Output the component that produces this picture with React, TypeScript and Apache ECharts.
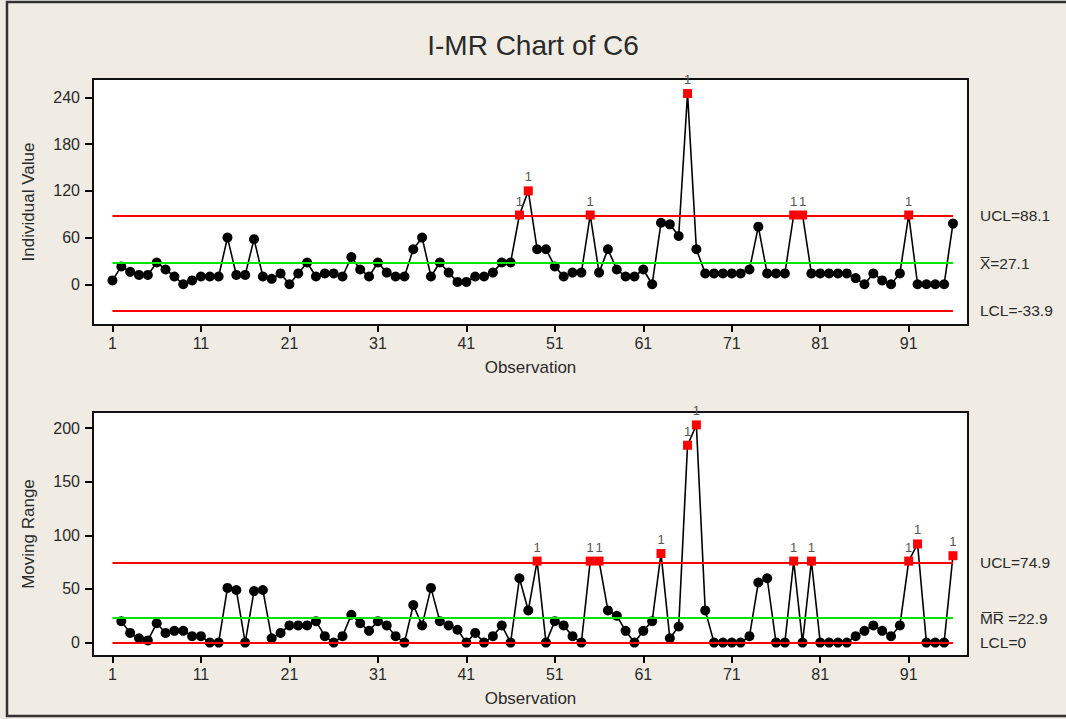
import React, { useEffect, useRef } from "react";
import * as echarts from "echarts";

const observationTicks = [1, 11, 21, 31, 41, 51, 61, 71, 81, 91];
const individualTicks = [0, 60, 120, 180, 240];
const movingRangeTicks = [0, 50, 100, 150, 200];

const individualValues: number[] = [
  5, 23, 16, 12, 12, 28, 19, 10, 0, 5,
  10, 10, 10, 60, 12, 12, 58, 10, 7, 14,
  0, 14, 28, 10, 14, 14, 10, 35, 19, 10,
  28, 15, 10, 10, 45, 60, 10, 28, 15, 3,
  3, 10, 10, 15, 28, 28, 89, 120, 45, 45,
  23, 10, 15, 15, 89, 15, 45, 19, 10, 10,
  19, 0, 79, 77, 62, 245, 45, 14, 14, 14,
  14, 14, 19, 74, 14, 14, 14, 89, 89, 14,
  14, 14, 14, 14, 8, 0, 14, 5, 0, 14,
  89, 0, 0, 0, 0, 78,
];

const movingRanges: (number | null)[] = [
  null, 20, 9, 4, 2, 18, 9, 11, 11, 6,
  6, 0, 0, 51, 49, 0, 48, 49, 4, 9,
  16, 16, 16, 20, 6, 0, 6, 26, 18, 11,
  20, 16, 6, 0, 35, 16, 51, 20, 16, 12,
  0, 9, 0, 6, 16, 0, 60, 30, 76, 0,
  20, 16, 6, 0, 76, 76, 30, 25, 11, 0,
  11, 20, 83, 4, 15, 184, 203, 30, 0, 0,
  0, 0, 6, 56, 60, 0, 0, 76, 0, 76,
  0, 0, 0, 0, 6, 11, 16, 11, 6, 16,
  76, 92, 0, 0, 0, 81,
];

const individualFlagged = [47, 48, 55, 66, 78, 79, 91];
const movingRangeFlagged = [49, 55, 56, 63, 66, 67, 78, 80, 91, 92, 96];

const iUCL = 88.1;
const iCenter = 27.1;
const iLCL = -33.9;
const mrUCL = 74.9;
const mrCenter = 22.9;
const mrLCL = 0;

const FONT = "'Liberation Sans', Arial, sans-serif";
const TEXT = "#2a2a2a";

function buildData(values: (number | null)[], flagged: number[]) {
  const out: any[] = [];
  values.forEach((v, i) => {
    const obs = i + 1;
    if (v === null) return;
    if (flagged.includes(obs)) {
      out.push({
        value: [obs, v],
        symbol: "rect",
        symbolSize: 9,
        itemStyle: { color: "#FF0000" },
        label: {
          show: true,
          formatter: "1",
          position: "top",
          distance: 3,
          color: "#555",
          fontSize: 13,
          fontFamily: FONT,
        },
      });
    } else {
      out.push({ value: [obs, v] });
    }
  });
  return out;
}

function limitLine(y: number, color: string, text: string, first: number, last: number) {
  return [
    { coord: [first, y] },
    {
      coord: [last, y],
      lineStyle: { color, width: 2, type: "solid" },
      label: {
        show: true,
        position: "end",
        distance: 27,
        formatter: text,
        color: TEXT,
        fontSize: 15.5,
        fontFamily: FONT,
      },
    },
  ];
}

function xAxis(gridIndex: number) {
  return {
    type: "value",
    gridIndex,
    min: -1.2,
    max: 97.7,
    name: "Observation",
    nameLocation: "middle",
    nameGap: 34,
    nameTextStyle: { color: TEXT, fontSize: 17, fontFamily: FONT },
    axisLine: { show: false, onZero: false },
    axisTick: {
      show: true,
      length: 7,
      lineStyle: { color: "#000", width: 2 },
      customValues: observationTicks,
    },
    axisLabel: {
      color: TEXT,
      fontSize: 16,
      fontFamily: FONT,
      margin: 10,
      customValues: observationTicks,
    },
    splitLine: { show: false },
  };
}

function yAxis(gridIndex: number, min: number, max: number, ticks: number[], name: string) {
  return {
    type: "value",
    gridIndex,
    min,
    max,
    name,
    nameLocation: "middle",
    nameGap: 56,
    nameTextStyle: { color: TEXT, fontSize: 17, fontFamily: FONT },
    axisLine: { show: false, onZero: false },
    axisTick: {
      show: true,
      length: 8,
      lineStyle: { color: "#000", width: 2 },
      customValues: ticks,
    },
    axisLabel: {
      color: TEXT,
      fontSize: 16,
      fontFamily: FONT,
      margin: 13,
      customValues: ticks,
    },
    splitLine: { show: false },
  };
}

export default function App() {
  const ref = useRef<HTMLDivElement>(null);

  useEffect(() => {
    document.body.style.margin = "0";
    if (!ref.current) return;
    const chart = echarts.init(ref.current, null, { renderer: "svg" });
    const lastObs = individualValues.length;

    const dataLineStyle = { color: "#000", width: 1.6 };

    chart.setOption({
      animation: false,
      backgroundColor: "#F0ECE3",
      title: {
        text: "I-MR Chart of C6",
        left: "center",
        top: 26,
        textStyle: {
          color: TEXT,
          fontSize: 28,
          fontWeight: "normal",
          fontFamily: "'Liberation Sans Narrow', 'Liberation Sans', Arial, sans-serif",
        },
      },
      graphic: [
        {
          type: "rect",
          shape: { x: 7, y: 2, width: 1075, height: 714 },
          style: { fill: "none", stroke: "#333", lineWidth: 2.5 },
          silent: true,
        },
      ],
      grid: [
        {
          left: 93,
          top: 79,
          width: 875,
          height: 246,
          show: true,
          backgroundColor: "#fff",
          borderColor: "#111",
          borderWidth: 2,
        },
        {
          left: 93,
          top: 412,
          width: 875,
          height: 244,
          show: true,
          backgroundColor: "#fff",
          borderColor: "#111",
          borderWidth: 2,
        },
      ],
      xAxis: [xAxis(0), xAxis(1)],
      yAxis: [
        yAxis(0, -52.3, 263.7, individualTicks, "Individual Value"),
        yAxis(1, -12.5, 215, movingRangeTicks, "Moving Range"),
      ],
      series: [
        {
          type: "line",
          xAxisIndex: 0,
          yAxisIndex: 0,
          data: [],
          z: 1,
          silent: true,
          markLine: {
            silent: true,
            symbol: ["none", "none"],
            data: [
              limitLine(iUCL, "#FF0000", "UCL=88.1", 1, lastObs),
              limitLine(iCenter, "#00E600", "X\u0305=27.1", 1, lastObs),
              limitLine(iLCL, "#FF0000", "LCL=-33.9", 1, lastObs),
            ],
          },
        },
        {
          type: "line",
          xAxisIndex: 0,
          yAxisIndex: 0,
          z: 3,
          data: buildData(individualValues, individualFlagged),
          symbol: "circle",
          symbolSize: 10,
          showAllSymbol: true,
          itemStyle: { color: "#000" },
          lineStyle: dataLineStyle,
        },
        {
          type: "line",
          xAxisIndex: 1,
          yAxisIndex: 1,
          data: [],
          z: 1,
          silent: true,
          markLine: {
            silent: true,
            symbol: ["none", "none"],
            data: [
              limitLine(mrUCL, "#FF0000", "UCL=74.9", 1, lastObs),
              limitLine(mrCenter, "#00E600", "M\u0305R\u0305 =22.9", 1, lastObs),
              limitLine(mrLCL, "#FF0000", "LCL=0", 1, lastObs),
            ],
          },
        },
        {
          type: "line",
          xAxisIndex: 1,
          yAxisIndex: 1,
          z: 3,
          data: buildData(movingRanges, movingRangeFlagged),
          symbol: "circle",
          symbolSize: 10,
          showAllSymbol: true,
          itemStyle: { color: "#000" },
          lineStyle: dataLineStyle,
        },
      ],
    });

    return () => {
      chart.dispose();
    };
  }, []);

  return (
    <div
      ref={ref}
      style={{ width: 1066, height: 719, position: "absolute", left: 0, top: 0 }}
    />
  );
}
